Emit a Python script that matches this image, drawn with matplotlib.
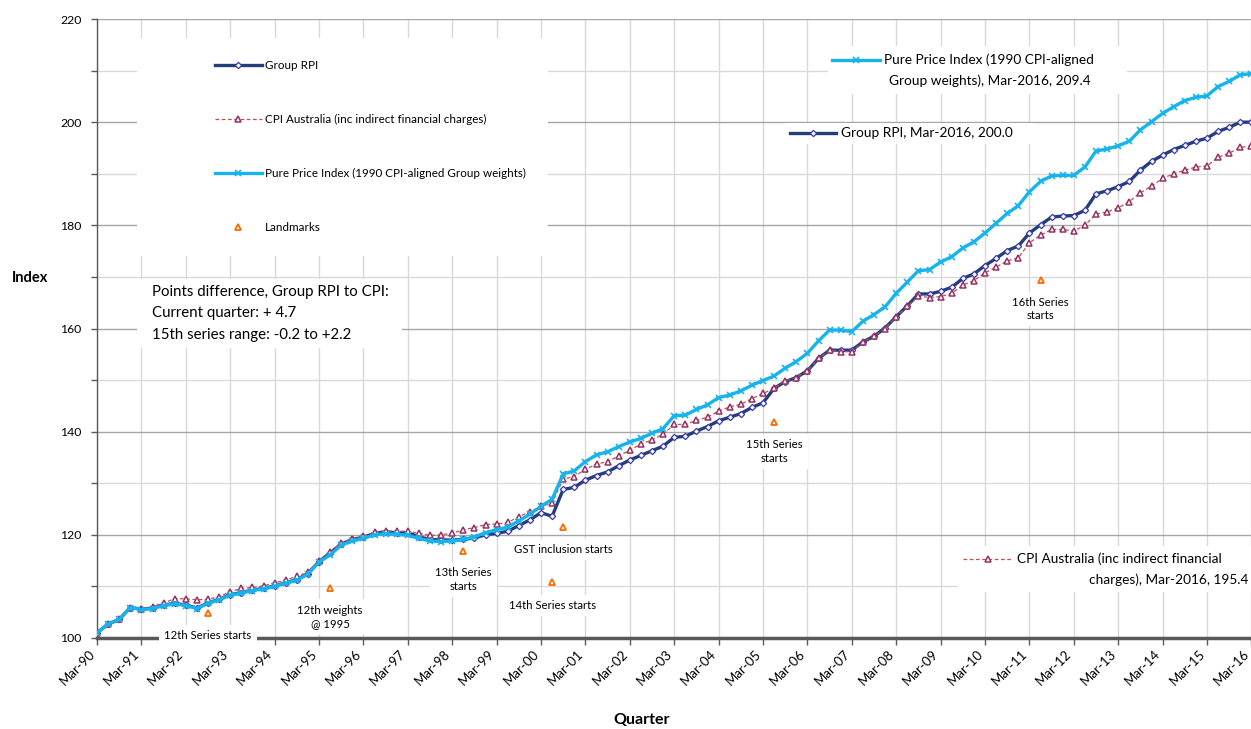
import matplotlib
matplotlib.use("Agg")
import matplotlib.pyplot as plt
from matplotlib.lines import Line2D
from matplotlib.patches import Rectangle
from matplotlib.ticker import MultipleLocator
import numpy as np

plt.rcParams['font.family'] = ['Lato', 'DejaVu Sans']

# ---------------- data ----------------
tick_labels = ['Mar-90', 'Mar-91', 'Mar-92', 'Mar-93', 'Mar-94', 'Mar-95', 'Mar-96',
               'Mar-97', 'Mar-98', 'Mar-99', 'Mar-00', 'Mar-01', 'Mar-02', 'Mar-03',
               'Mar-04', 'Mar-05', 'Mar-06', 'Mar-07', 'Mar-08', 'Mar-09', 'Mar-10',
               'Mar-11', 'Mar-12', 'Mar-13', 'Mar-14', 'Mar-15', 'Mar-16']

group_rpi = [101.0, 102.7, 103.6, 105.9, 105.6, 105.8, 106.4, 106.7, 106.4, 105.8,
             106.8, 107.5, 108.4, 108.8, 109.3, 109.6, 110.1, 110.7, 111.3, 112.5,
             114.8, 116.5, 118.2, 119.1, 119.5, 120.3, 120.6, 120.4, 120.4, 119.6,
             119.1, 119.0, 119.0, 119.1, 119.4, 120.0, 120.3, 120.7, 121.8, 122.9,
             124.3, 123.6, 128.8, 129.2, 130.6, 131.5, 132.2, 133.4, 134.5, 135.4,
             136.3, 137.2, 138.9, 139.1, 140.1, 141.0, 142.1, 142.8, 143.5, 144.7,
             145.6, 148.4, 149.7, 150.5, 151.8, 154.2, 155.8, 155.8, 155.8, 157.4,
             158.5, 160.1, 162.3, 164.4, 166.7, 166.7, 167.2, 168.0, 169.7, 170.6,
             172.2, 173.6, 175.1, 176.0, 178.5, 180.1, 181.6, 181.8, 181.9, 182.9,
             186.1, 186.7, 187.5, 188.5, 190.7, 192.4, 193.6, 194.7, 195.5, 196.3,
             196.9, 198.2, 199.0, 200.0, 200.0]

cpi_australia = [101.0, 102.7, 103.6, 105.9, 105.6, 106.1, 106.8, 107.6, 107.6, 107.4,
                 107.5, 108.0, 109.0, 109.6, 109.8, 110.1, 110.7, 111.2, 112.0, 112.7,
                 114.9, 116.7, 118.4, 119.2, 119.8, 120.5, 120.7, 120.7, 120.7, 120.3,
                 119.9, 120.0, 120.3, 121.0, 121.4, 122.0, 122.1, 122.4, 123.5, 124.5,
                 125.5, 126.2, 130.8, 131.3, 132.7, 133.7, 134.2, 135.3, 136.4, 137.6,
                 138.4, 139.5, 141.4, 141.4, 142.2, 142.8, 144.0, 144.8, 145.3, 146.4,
                 147.4, 148.4, 149.8, 150.5, 151.8, 154.2, 155.8, 155.5, 155.5, 157.4,
                 158.5, 160.0, 162.3, 164.3, 166.3, 166.0, 166.2, 166.8, 168.4, 169.3,
                 170.8, 171.9, 173.1, 173.7, 176.6, 178.1, 179.2, 179.2, 178.9, 180.0,
                 182.2, 182.6, 183.4, 184.6, 186.3, 187.6, 189.1, 190.0, 190.7, 191.3,
                 191.5, 193.2, 194.0, 195.1, 195.4]

pure_price = [101.0, 102.7, 103.6, 105.9, 105.5, 105.7, 106.3, 106.6, 106.3, 105.7,
              106.7, 107.4, 108.3, 108.7, 109.2, 109.5, 110.0, 110.6, 111.2, 112.4,
              114.7, 116.1, 118.0, 118.8, 119.3, 120.0, 120.2, 120.1, 119.9, 119.3,
              118.8, 118.7, 118.8, 119.1, 119.6, 120.4, 121.0, 121.5, 122.7, 124.0,
              125.5, 126.9, 131.8, 132.4, 134.2, 135.5, 136.1, 137.1, 138.0, 138.7,
              139.7, 140.6, 143.1, 143.2, 144.3, 145.2, 146.6, 147.1, 147.9, 149.0,
              149.9, 150.8, 152.3, 153.6, 155.2, 157.6, 159.7, 159.7, 159.4, 161.4,
              162.7, 164.2, 166.8, 169.0, 171.2, 171.4, 172.9, 173.9, 175.6, 176.8,
              178.5, 180.4, 182.3, 183.8, 186.5, 188.5, 189.6, 189.7, 189.7, 191.3,
              194.4, 194.8, 195.4, 196.3, 198.5, 200.1, 201.7, 203.0, 204.2, 204.8,
              205.1, 206.9, 207.9, 209.2, 209.4]

landmark_quarters = [10, 21, 33, 41, 42, 61, 85]
landmark_values = [104.9, 109.7, 116.9, 110.8, 121.6, 141.8, 169.4]
landmark_labels = ['12th Series starts', '12th weights\n@ 1995', '13th Series\nstarts',
                   '14th Series starts', 'GST inclusion starts', '15th Series\nstarts',
                   '16th Series\nstarts']

series_names = ['Group RPI', 'CPI Australia (inc indirect financial charges)',
                'Pure Price Index (1990 CPI-aligned Group weights)', 'Landmarks']

# ---------------- layout helpers ----------------
W, H = 1251, 729
fig = plt.figure(figsize=(W / 100, H / 100), dpi=100)


def fx(px):
    return px / W


def fy(py):
    return 1 - py / H


ax = fig.add_axes([fx(97), fy(638), fx(1251.4) - fx(97), fy(19) - fy(638)])

rpi_style = dict(color='#233f7a', lw=2.4, marker='D', ms=3.2, mfc='white', mec='#3a3ab0', mew=0.9)
cpi_style = dict(color='#c0504d', lw=0.9, ls=(0, (3, 2)), marker='^', ms=4.8, mfc='white',
                 mec='#953163', mew=1.1)
pure_style = dict(color='#17b3ec', lw=2.4, marker='x', ms=5, mew=1.2)
land_style = dict(ls='none', marker='^', ms=5, mfc='white', mec='#ff6a00', mew=1.3)

x = np.arange(len(group_rpi))
l1, = ax.plot(x, group_rpi, zorder=3, **rpi_style)
l2, = ax.plot(x, cpi_australia, zorder=4, **cpi_style)
l3, = ax.plot(x, pure_price, zorder=5, **pure_style)
l4, = ax.plot(landmark_quarters, landmark_values, zorder=6, **land_style)

ax.set_xlim(0, 104)
ax.set_ylim(100, 220)

# ticks & grid
ax.set_xticks(np.arange(0, len(group_rpi), 4))
ax.set_xticklabels(tick_labels)
ax.yaxis.set_major_locator(MultipleLocator(20))
ax.yaxis.set_minor_locator(MultipleLocator(10))
ax.tick_params(axis='x', length=5, width=1, color='#595959', pad=2, labelsize=9.5,
               labelcolor='#000000')
for t in ax.get_xticklabels():
    t.set_rotation(45)
    t.set_ha('right')
    t.set_va('top')
ax.tick_params(axis='y', which='both', length=4, width=1, color='#595959', pad=7,
               labelsize=8.8)
ax.set_axisbelow(True)
ax.grid(axis='y', which='major', color='#a6a6a6', lw=1)
ax.grid(axis='y', which='minor', color='#d9d9d9', lw=1)
ax.grid(axis='x', which='major', color='#d9d9d9', lw=1)
for s in ['top', 'right']:
    ax.spines[s].set_visible(False)
ax.spines['bottom'].set_color('#595959')
ax.spines['bottom'].set_linewidth(2.5)
ax.spines['left'].set_color('#595959')
ax.spines['left'].set_linewidth(1)

# white boxes (legend, note, end labels)
for (x0, y0, x1, y1) in [(137, 38, 548, 256), (137, 279, 402, 348),
                         (828, 46, 1127, 94), (785, 123, 1034, 144), (958, 546, 1251, 592)]:
    ax.add_patch(Rectangle((fx(x0), fy(y1)), fx(x1) - fx(x0), fy(y0) - fy(y1),
                           transform=fig.transFigure, facecolor='white', edgecolor='none',
                           zorder=1.5))

# main legend
leg = ax.legend([l1, l2, l3, l4], series_names, loc='upper left',
                bbox_to_anchor=(fx(215), fy(60)), bbox_transform=fig.transFigure,
                frameon=False, fontsize=8.4, handlelength=4.0, handletextpad=0.25,
                labelspacing=3.68, borderpad=0, borderaxespad=0, numpoints=1)

# note box
fig.text(fx(152), fy(285), 'Points difference, Group RPI to CPI:\nCurrent quarter: + 4.7\n'
         '15th series range: -0.2 to +2.2', ha='left', va='top', fontsize=10.8,
         linespacing=1.68)

# landmark labels
for q, v, lbl in zip(landmark_quarters, landmark_values, landmark_labels):
    off = 29 if '\n' in lbl else 23
    ax.annotate(lbl, xy=(q, v), xytext=(0, -off), textcoords='offset pixels',
                ha='center', va='center', fontsize=8.2, linespacing=1.3,
                bbox=dict(boxstyle='square,pad=0.45', fc='white', ec='none'),
                zorder=7, annotation_clip=False)


# end-of-series labels with legend keys
def key(x0, x1, y, style):
    st = dict(style)
    st.pop('ls', None)
    ls = style.get('ls', '-')
    fig.add_artist(Line2D([fx(x0), fx((x0 + x1) / 2), fx(x1)], [fy(y)] * 3,
                          transform=fig.transFigure, markevery=[1], ls=ls, **st))


EFS = 9.8
key(832, 880, 60, pure_style)
fig.text(fx(884), fy(60), 'Pure Price Index (1990 CPI-aligned', ha='left', va='center',
         fontsize=EFS)
fig.text(fx(889), fy(81), 'Group weights), Mar-2016, 209.4', ha='left', va='center',
         fontsize=EFS)

key(790, 836, 133, rpi_style)
fig.text(fx(841), fy(133), 'Group RPI, Mar-2016, 200.0', ha='left', va='center',
         fontsize=EFS)

key(963, 1012, 559, cpi_style)
fig.text(fx(1017), fy(559), 'CPI Australia (inc indirect financial', ha='left',
         va='center', fontsize=EFS)
fig.text(fx(1248), fy(580), 'charges), Mar-2016, 195.4', ha='right', va='center',
         fontsize=EFS)

# axis titles
fig.text(fx(30), fy(278), 'Index', ha='center', va='center', fontsize=10.5, fontweight='bold')
fig.text(fx(642), fy(720), 'Quarter', ha='center', va='center', fontsize=11.5,
         fontweight='bold')

fig.savefig('out.png', dpi=100)
